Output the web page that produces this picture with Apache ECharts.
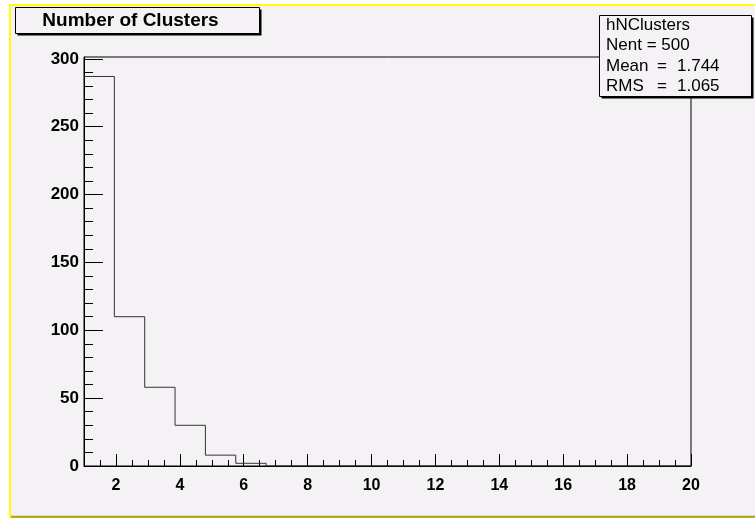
<!DOCTYPE html>
<html><head><meta charset="utf-8">
<script src="https://cdn.jsdelivr.net/npm/echarts@6/dist/echarts.min.js"></script>
<style>html,body{margin:0;padding:0;background:#fff}#c{width:755px;height:518px}</style>
</head><body><div id="c"></div>
<script>
// ---- data ----
const titleText = 'Number of Clusters';
const statsName = 'hNClusters';
const statsLabels = ['Nent = 500', 'Mean', 'RMS'];
const statsValues = ['', '1.744', '1.065'];
const xMin = 1;
const xMax = 20;
const binWidth = 0.95;
const binCounts = [287, 110, 58, 30, 8, 2, 0, 0, 0, 0, 0, 0, 0, 0, 0, 0, 0, 0, 0, 0];
const yMax = 301.35;
const xTickLabels = [2, 4, 6, 8, 10, 12, 14, 16, 18, 20];
const yTickLabels = [0, 50, 100, 150, 200, 250, 300];
const xMinorStep = 0.5;
const yMinorStep = 10;

// ---- derived ----
const xMinorTicks = [];
for (let v = xMin; v <= xMax + 1e-9; v += xMinorStep) xMinorTicks.push(+v.toFixed(3));
const yMinorTicks = [];
for (let v = 0; v <= yMax; v += yMinorStep) yMinorTicks.push(v);
const histData = binCounts.map((c, i) => [+(xMin + i * binWidth).toFixed(4), c]);
histData.push([xMax, binCounts[binCounts.length - 1]]);

const FONT = "'Liberation Sans', Arial, Helvetica, sans-serif";
const BG = '#f5f2f5';
const chart = echarts.init(document.getElementById('c'), null, {renderer: 'canvas'});

const baseX = {type: 'value', min: xMin, max: xMax, gridIndex: 0, splitLine: {show: false}};
const baseY = {type: 'value', min: 0, max: yMax, gridIndex: 0, splitLine: {show: false}};
const statFont = '17px ' + FONT;

chart.setOption({
  animation: false,
  backgroundColor: BG,
  grid: {left: 84, right: 64, top: 57, bottom: 52, show: true, borderColor: '#000', borderWidth: 1, backgroundColor: 'transparent'},
  xAxis: [
    Object.assign({}, baseX, {
      position: 'bottom',
      axisLine: {show: true, lineStyle: {color: '#000', width: 1}},
      axisTick: {show: true, inside: true, length: 12, lineStyle: {color: '#000'}, customValues: xTickLabels},
      axisLabel: {show: true, customValues: xTickLabels, margin: 12, color: '#000', fontFamily: FONT, fontWeight: 'bold', fontSize: 16}
    }),
    Object.assign({}, baseX, {
      position: 'bottom',
      axisLine: {show: false},
      axisTick: {show: true, inside: true, length: 6, lineStyle: {color: '#000'}, customValues: xMinorTicks},
      axisLabel: {show: false}
    })
  ],
  yAxis: [
    Object.assign({}, baseY, {
      position: 'left',
      axisLine: {show: true, lineStyle: {color: '#000', width: 1}},
      axisTick: {show: true, inside: true, length: 19, lineStyle: {color: '#000'}, customValues: yTickLabels},
      axisLabel: {show: true, customValues: yTickLabels, margin: 5, color: '#000', fontFamily: FONT, fontWeight: 'bold', fontSize: 17}
    }),
    Object.assign({}, baseY, {
      position: 'left',
      axisLine: {show: false},
      axisTick: {show: true, inside: true, length: 9, lineStyle: {color: '#000'}, customValues: yMinorTicks},
      axisLabel: {show: false}
    })
  ],
  series: [{
    type: 'line',
    xAxisIndex: 0, yAxisIndex: 0,
    step: 'end',
    data: histData,
    symbol: 'none',
    lineStyle: {color: '#333', width: 1},
    z: 3
  }],
  graphic: [
    {type: 'rect', shape: {x: 0, y: 0, width: 9, height: 518}, style: {fill: '#fff'}, silent: true},
    {type: 'rect', shape: {x: 0, y: 0, width: 755, height: 4}, style: {fill: '#fff'}, silent: true},
    {type: 'rect', shape: {x: 9, y: 4, width: 746, height: 2}, style: {fill: '#ffff00'}, silent: true},
    {type: 'rect', shape: {x: 9, y: 4, width: 2, height: 514}, style: {fill: '#ffff00'}, silent: true},
    {type: 'rect', shape: {x: 11, y: 515, width: 744, height: 1}, style: {fill: '#dcdad0'}, silent: true},
    {type: 'rect', shape: {x: 11, y: 516, width: 744, height: 2}, style: {fill: '#b5ab10'}, silent: true},
    // title box
    {type: 'rect', z: 100, shape: {x: 17.5, y: 9.5, width: 244, height: 26}, style: {fill: '#000'}, silent: true},
    {type: 'rect', z: 101, shape: {x: 15.5, y: 7.5, width: 244, height: 26}, style: {fill: BG, stroke: '#000', lineWidth: 1}, silent: true},
    {type: 'text', z: 102, x: 130.5, y: 21, style: {text: titleText, fill: '#000', font: 'bold 19px ' + FONT, textAlign: 'center', textVerticalAlign: 'middle'}, silent: true},
    // stats box
    {type: 'rect', z: 100, shape: {x: 601.5, y: 17.5, width: 152, height: 81}, style: {fill: '#000'}, silent: true},
    {type: 'rect', z: 101, shape: {x: 599.5, y: 15.5, width: 152, height: 81}, style: {fill: BG, stroke: '#000', lineWidth: 1}, silent: true},
    {type: 'text', z: 102, x: 606, y: 25.5, style: {text: statsName, fill: '#000', font: statFont, textVerticalAlign: 'middle'}, silent: true},
    {type: 'text', z: 102, x: 606, y: 45.5, style: {text: statsLabels[0], fill: '#000', font: statFont, textVerticalAlign: 'middle'}, silent: true},
    {type: 'text', z: 102, x: 606, y: 66, style: {text: statsLabels[1], fill: '#000', font: statFont, textVerticalAlign: 'middle'}, silent: true},
    {type: 'text', z: 102, x: 657, y: 66, style: {text: '=', fill: '#000', font: statFont, textVerticalAlign: 'middle'}, silent: true},
    {type: 'text', z: 102, x: 677, y: 66, style: {text: statsValues[1], fill: '#000', font: statFont, textVerticalAlign: 'middle'}, silent: true},
    {type: 'text', z: 102, x: 606, y: 86.5, style: {text: statsLabels[2], fill: '#000', font: statFont, textVerticalAlign: 'middle'}, silent: true},
    {type: 'text', z: 102, x: 657, y: 86.5, style: {text: '=', fill: '#000', font: statFont, textVerticalAlign: 'middle'}, silent: true},
    {type: 'text', z: 102, x: 677, y: 86.5, style: {text: statsValues[2], fill: '#000', font: statFont, textVerticalAlign: 'middle'}, silent: true}
  ]
});
</script>
</body></html>
